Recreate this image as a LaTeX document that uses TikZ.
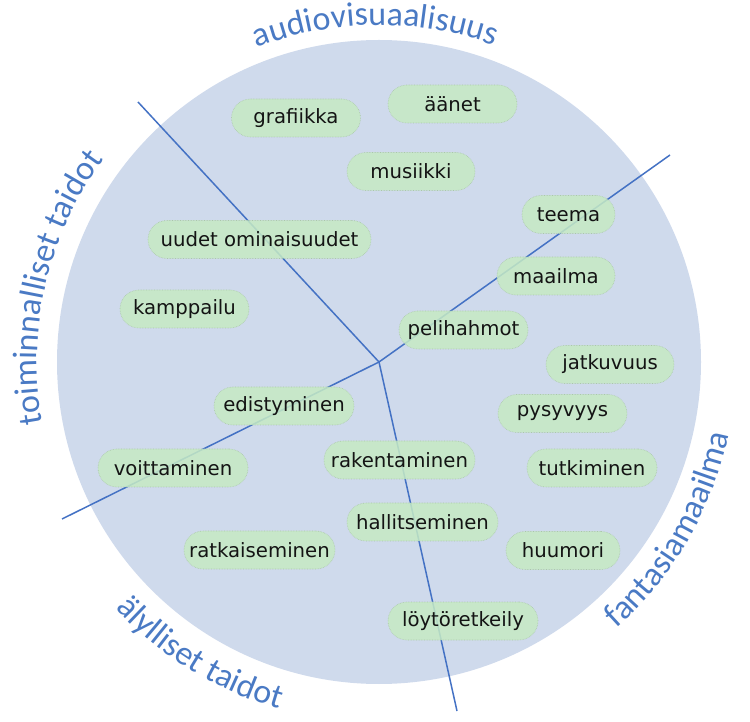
\documentclass[tikz,border=0pt]{standalone}
\usepackage{fontspec}
\setmainfont{DejaVu Sans}
\newfontfamily\outerfont{Carlito}
\usetikzlibrary{decorations.text}
\definecolor{circfill}{RGB}{207,218,236}
\definecolor{nodefill}{RGB}{198,234,196}
\definecolor{nodeborder}{RGB}{170,200,168}
\definecolor{labelblue}{RGB}{74,122,196}
\definecolor{linecol}{RGB}{68,114,196}
\tikzset{
  pill/.style={draw=nodeborder, densely dotted, line width=0.6pt, fill=nodefill, fill opacity=0.85, text opacity=1,
    rounded corners=19pt, minimum height=38pt, inner sep=0pt, text=black!92,
    font=\fontsize{19.7}{22}\selectfont},
  divider/.style={draw=linecol, line width=1.5pt},
  arclabel/.style={decorate, decoration={text along path, text align=center,
    text={|\outerfont\fontsize{34}{38}\selectfont\color{labelblue}|#1}}}
}
\begin{document}
\begin{tikzpicture}[x=1pt,y=1pt]
\useasboundingbox (0,0) rectangle (750,721);
\coordinate (c) at (379,359);
\fill[circfill] (c) circle[radius=322];
% dividers
\coordinate (ja) at (138,619);
\coordinate (jb) at (670,566);
\coordinate (jc) at (457,10);
\coordinate (jd) at (62,202);
\draw[divider] (ja) -- (c) -- (jc);
\draw[divider] (jd) -- (c) -- (jb);
% nodes
\node[pill, minimum width=129pt] (grafiikka) at (296,603) {grafiikka};
\node[pill, minimum width=129pt] (aanet) at (452.5,617) {äänet};
\node[pill, minimum width=128pt] (musiikki) at (411,549.5) {musiikki};
\node[pill, minimum width=93pt] (teema) at (568.5,506.5) {teema};
\node[pill, minimum width=223pt] (uudet) at (259.5,481.5) {uudet ominaisuudet};
\node[pill, minimum width=118pt] (maailma) at (556,445) {maailma};
\node[pill, minimum width=129pt] (kamppailu) at (184.5,412) {kamppailu};
\node[pill, minimum width=129pt] (pelihahmot) at (463.5,391) {pelihahmot};
\node[pill, minimum width=128pt] (jatkuvuus) at (610,356.5) {jatkuvuus};
\node[pill, minimum width=140pt] (edistyminen) at (284,315) {edistyminen};
\node[pill, minimum width=129pt] (pysyvyys) at (562.5,307.5) {pysyvyys};
\node[pill, minimum width=150pt] (voittaminen) at (173,253) {voittaminen};
\node[pill, minimum width=151pt] (rakentaminen) at (399.5,261) {rakentaminen};
\node[pill, minimum width=130pt] (tutkiminen) at (592,253) {tutkiminen};
\node[pill, minimum width=151pt] (hallitseminen) at (422.5,199) {hallitseminen};
\node[pill, minimum width=151pt] (ratkaiseminen) at (259.5,171) {ratkaiseminen};
\node[pill, minimum width=114pt] (huumori) at (563,170.5) {huumori};
\node[pill, minimum width=150pt] (loyto) at (463,100) {löytöretkeily};
% curved outer labels
\path[arclabel=audiovisuaalisuus] (c) ++(130.6:337) arc[start angle=130.6, end angle=50.6, radius=337];
\path[arclabel=toiminnalliset taidot] (c) ++(197:342) arc[start angle=197, end angle=137, radius=342];
\path[arclabel=älylliset taidot] (c) ++(208.5:361) arc[start angle=208.5, end angle=268.5, radius=361];
\path[arclabel=fantasiamaailma] (c) ++(300:357) arc[start angle=300, end angle=360, radius=357];
\end{tikzpicture}
\end{document}
